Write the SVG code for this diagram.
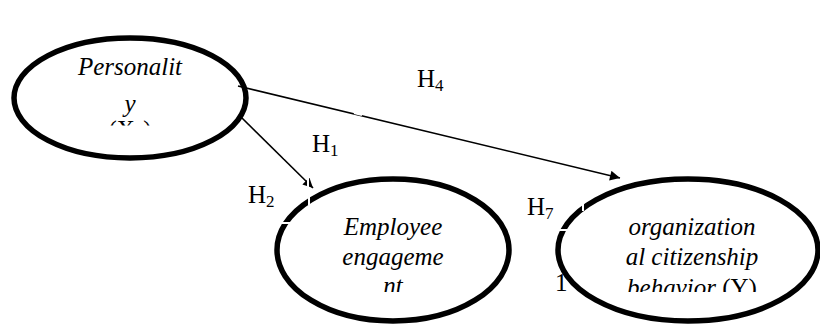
<svg xmlns="http://www.w3.org/2000/svg" width="820" height="325" viewBox="0 0 820 325">
  <style>
    .node { fill: #fff; stroke: #000; stroke-width: 5.5; }
    .edge { stroke: #000; stroke-width: 1.6; fill: none; }
    .gap { stroke: #fff; stroke-width: 2; }
  </style>
  <defs>
    <marker id="arrow" viewBox="0 0 10 10" refX="10" refY="5" markerWidth="12" markerHeight="10" markerUnits="userSpaceOnUse" orient="auto">
      <path d="M0,0 L10,5 L0,10 z" fill="#000"/>
    </marker>
    <clipPath id="clipX"><rect x="0" y="0" width="260" height="125.5"/></clipPath>
    <clipPath id="clipM"><rect x="260" y="150" width="260" height="142"/></clipPath>
    <clipPath id="clipY"><rect x="540" y="150" width="280" height="142"/></clipPath>
  </defs>

  <rect width="820" height="325" fill="#fff"/>

  <!-- partly hidden label behind the outcome node -->
  <text x="555" y="291" font-family="Liberation Serif" font-size="25">1</text>

  <g id="node-personality">
    <ellipse class="node" cx="130" cy="98" rx="116" ry="60"/>
    <g font-family="Liberation Serif" font-size="25" text-anchor="middle">
      <text x="130" y="75" font-style="italic">Personalit</text>
      <text x="130" y="112" font-style="italic">y</text>
      <g clip-path="url(#clipX)">
        <text x="130" y="138">(X<tspan font-size="17" dy="4">1</tspan><tspan dy="-4">)</tspan></text>
      </g>
    </g>
  </g>

  <g id="node-engagement">
    <ellipse class="node" cx="393" cy="250" rx="116" ry="71"/>
    <g font-family="Liberation Serif" font-size="25" font-style="italic" text-anchor="middle">
      <text x="393" y="235">Employee</text>
      <text x="393" y="265">engageme</text>
      <g clip-path="url(#clipM)">
        <text x="393" y="294">nt</text>
      </g>
    </g>
    <line class="gap" x1="309" y1="191" x2="309" y2="205"/>
    <line class="gap" x1="278" y1="223" x2="292" y2="223"/>
  </g>

  <g id="node-ocb">
    <ellipse class="node" cx="688" cy="250" rx="130" ry="71"/>
    <g font-family="Liberation Serif" font-size="25" font-style="italic" text-anchor="middle">
      <text x="692" y="235">organization</text>
      <text x="692" y="265">al citizenship</text>
      <g clip-path="url(#clipY)">
        <text x="692" y="296">behavior <tspan font-style="normal">(Y)</tspan></text>
      </g>
    </g>
    <line class="gap" x1="583" y1="199" x2="583" y2="211"/>
    <line class="gap" x1="556" y1="230" x2="572" y2="230"/>
  </g>

  <g id="connectors">
    <line class="edge" x1="238" y1="86" x2="620" y2="178" marker-end="url(#arrow)"/>
    <line class="edge" x1="241" y1="117" x2="313" y2="188" marker-end="url(#arrow)"/>
    <line class="gap" x1="354" y1="113" x2="362" y2="115"/>
    <line class="gap" x1="284" y1="158" x2="290" y2="154"/>
    <line class="gap" x1="303" y1="176" x2="309" y2="172"/>
    <line class="gap" x1="308" y1="178" x2="308" y2="190"/>
  </g>

  <g id="labels" font-family="Liberation Serif" font-size="25">
    <text x="417" y="87">H<tspan font-size="17" dy="4">4</tspan></text>
    <text x="312" y="152">H<tspan font-size="17" dy="4">1</tspan></text>
    <text x="248" y="203">H<tspan font-size="17" dy="4">2</tspan></text>
    <text x="527" y="215">H<tspan font-size="17" dy="4">7</tspan></text>
  </g>
</svg>
